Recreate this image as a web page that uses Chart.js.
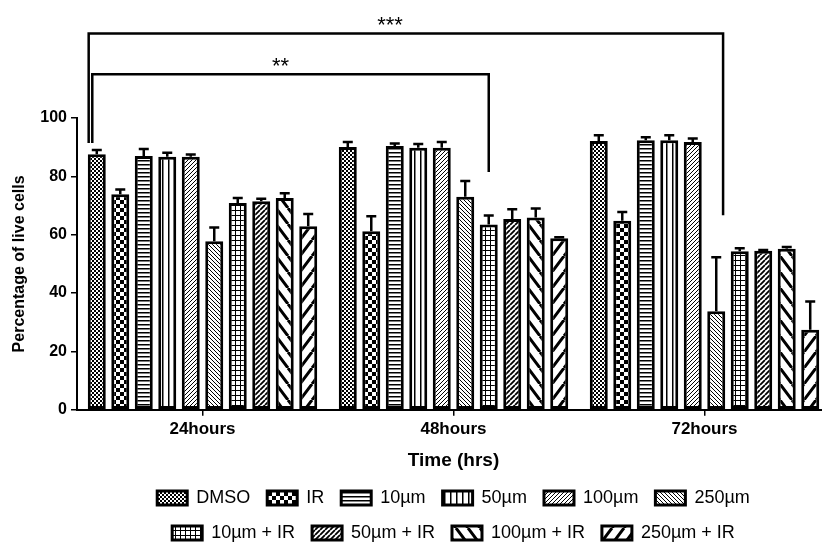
<!DOCTYPE html>
<html>
<head>
<meta charset="utf-8">
<title>Percentage of live cells</title>
<script src="https://cdn.jsdelivr.net/npm/chart.js"></script>
<style>
  html, body { margin: 0; padding: 0; background: #fff; overflow: hidden; }
  #wrap { width: 840px; height: 545px; }
</style>
</head>
<body>
<div id="wrap"><canvas id="live-cells" width="840" height="545"></canvas></div>
<script>
// time points on the x axis
const categories = ["24hours", "48hours", "72hours"];

// treatment groups (legend order)
const seriesNames = ["DMSO", "IR", "10µm", "50µm", "100µm", "250µm",
                     "10µm + IR", "50µm + IR", "100µm + IR", "250µm + IR"];

// mean % of live cells at 24h / 48h / 72h
const dmso      = [87.6, 90.1, 92.1];
const ir        = [73.9, 61.2, 64.8];
const um10      = [87.0, 90.4, 92.4];
const um50      = [86.7, 89.8, 92.4];
const um100     = [86.7, 89.8, 91.8];
const um250     = [57.8, 73.0, 33.8];
const um10ir    = [70.9, 63.5, 54.3];
const um50ir    = [71.5, 65.4, 54.5];
const um100ir   = [72.6, 65.9, 55.2];
const um250ir   = [62.9, 58.8, 27.4];

// upper error (SEM)
const dmsoErr    = [1.4, 1.7, 2.0];
const irErr      = [1.6, 5.1, 3.0];
const um10Err    = [2.4, 0.9, 1.0];
const um50Err    = [1.4, 1.3, 1.7];
const um100Err   = [0.8, 2.0, 1.2];
const um250Err   = [4.7, 5.4, 18.5];
const um10irErr  = [1.7, 3.1, 1.1];
const um50irErr  = [0.8, 3.3, 0.3];
const um100irErr = [1.6, 3.1, 0.6];
const um250irErr = [4.2, 0.3, 9.7];

const means  = [dmso, ir, um10, um50, um100, um250, um10ir, um50ir, um100ir, um250ir];
const errors = [dmsoErr, irErr, um10Err, um50Err, um100Err, um250Err,
                um10irErr, um50irErr, um100irErr, um250irErr];

// y axis ticks
const yTicks = [0, 20, 40, 60, 80, 100];

// significance brackets: [series, category] of both ends
const sigLabels = ["***", "**"];
const sigStart  = [[0, 0], [0, 0]];
const sigEnd    = [[5, 2], [6, 1]];
const sigLevel  = [129, 115];               // height of the bracket (%)
const sigLegs   = [[91.4, 66.7], [91.4, 81.5]]; // where the legs stop (%)

// fill patterns, black on white like the original print
function makePattern(kind) {
    const sizes = {
        fineCheck: [4, 4], check: [8, 8], hlines: [4, 4], vlines: [6, 6],
        diagR: [4, 4], diagL: [4, 4], grid: [5, 5], diagBold: [5, 5],
        wideL: [12, 16], wideR: [12, 16]
    };
    const [w, h] = sizes[kind];
    const c = document.createElement("canvas");
    c.width = w; c.height = h;
    const g = c.getContext("2d");
    g.fillStyle = "#fff";
    g.fillRect(0, 0, w, h);
    g.fillStyle = "#000";
    g.strokeStyle = "#000";

    const slash = (lw, back) => {
        g.lineWidth = lw;
        g.beginPath();
        for (const dx of [-w, 0, w]) {
            if (back) { g.moveTo(dx, 0); g.lineTo(dx + w, h); }
            else      { g.moveTo(dx, h); g.lineTo(dx + w, 0); }
        }
        g.stroke();
    };

    switch (kind) {
        case "fineCheck": g.fillRect(0, 0, 2, 2); g.fillRect(2, 2, 2, 2); break;
        case "check":     g.fillRect(0, 0, 4, 4); g.fillRect(4, 4, 4, 4); break;
        case "hlines":    g.fillRect(0, 0, w, 1.5); break;
        case "vlines":    g.fillRect(0, 0, 1.5, h); break;
        case "diagR":     slash(1, false); break;
        case "diagL":     slash(1, true); break;
        case "grid":      g.fillRect(0, 0, w, 1); g.fillRect(0, 0, 1, h); break;
        case "diagBold":  slash(1.8, false); break;
        case "wideL":     slash(3, true); break;
        case "wideR":     slash(3, false); break;
    }
    return g.createPattern(c, "repeat");
}

const patternKinds = ["fineCheck", "check", "hlines", "vlines", "diagR", "diagL",
                      "grid", "diagBold", "wideL", "wideR"];

// upward error bars with a cap
const errorBars = {
    id: "errorBars",
    afterDatasetsDraw(chart) {
        const ctx = chart.ctx;
        const y = chart.scales.y;
        ctx.save();
        ctx.strokeStyle = "#000";
        ctx.lineWidth = 2.5;
        chart.data.datasets.forEach((ds, i) => {
            chart.getDatasetMeta(i).data.forEach((bar, j) => {
                const top = y.getPixelForValue(ds.data[j] + ds.errors[j]);
                ctx.beginPath();
                ctx.moveTo(bar.x, bar.y);
                ctx.lineTo(bar.x, top);
                ctx.moveTo(bar.x - 5, top);
                ctx.lineTo(bar.x + 5, top);
                ctx.stroke();
            });
        });
        ctx.restore();
    }
};

// significance brackets above the bars
const brackets = {
    id: "brackets",
    afterDraw(chart) {
        const ctx = chart.ctx;
        const y = chart.scales.y;
        const legShift = [[-0.45, 0.38], [-0.25, 0]];
        ctx.save();
        ctx.strokeStyle = "#000";
        ctx.fillStyle = "#000";
        ctx.lineWidth = 2.5;
        sigLabels.forEach((label, k) => {
            const a = chart.getDatasetMeta(sigStart[k][0]).data[sigStart[k][1]];
            const b = chart.getDatasetMeta(sigEnd[k][0]).data[sigEnd[k][1]];
            const x1 = a.x + a.width * legShift[k][0];
            const x2 = b.x + b.width * legShift[k][1];
            const top = y.getPixelForValue(sigLevel[k]);
            ctx.beginPath();
            ctx.moveTo(x1, y.getPixelForValue(sigLegs[k][0]));
            ctx.lineTo(x1, top);
            ctx.lineTo(x2, top);
            ctx.lineTo(x2, y.getPixelForValue(sigLegs[k][1]));
            ctx.stroke();
            ctx.font = "22px 'Liberation Sans', Arial";
            ctx.textAlign = "center";
            ctx.textBaseline = "alphabetic";
            ctx.fillText(label, x1 + (x2 - x1) * 0.475, top - 1);
        });
        ctx.restore();
    }
};

Chart.defaults.font.family = "'Liberation Sans', Arial, sans-serif";
Chart.defaults.color = "#000";

new Chart(document.getElementById("live-cells"), {
    type: "bar",
    data: {
        labels: categories,
        datasets: seriesNames.map((name, i) => ({
            label: name,
            data: means[i],
            errors: errors[i],
            backgroundColor: makePattern(patternKinds[i]),
            borderColor: "#000",
            borderWidth: 3,
            borderSkipped: false,
            categoryPercentage: 0.936,
            barPercentage: 0.766
        }))
    },
    options: {
        responsive: false,
        animation: false,
        layout: { padding: { top: 118, right: 10, left: 0, bottom: 0 } },
        plugins: {
            tooltip: { enabled: false },
            legend: {
                position: "bottom",
                fullSize: false,
                maxHeight: 73,
                labels: {
                    boxWidth: 30,
                    boxHeight: 14,
                    padding: 17,
                    font: { size: 18 }
                }
            }
        },
        scales: {
            x: {
                grid: { display: true, offset: false, drawOnChartArea: false, tickLength: 6, color: "#000", lineWidth: 1.5 },
                border: { color: "#000", width: 2 },
                ticks: { padding: 3, font: { size: 17, weight: "bold" } },
                title: { display: true, text: "Time (hrs)", font: { size: 19, weight: "bold" }, padding: { top: 7, bottom: 0 } }
            },
            y: {
                min: 0,
                max: 100,
                afterBuildTicks: s => { s.ticks = yTicks.map(v => ({ value: v })); },
                afterFit: s => { s.width = 77; },
                grid: { drawOnChartArea: false, tickLength: 6, color: "#000", lineWidth: 1.5 },
                border: { color: "#000", width: 2 },
                ticks: { padding: 4, font: { size: 16, weight: "bold" } },
                title: { display: true, text: "Percentage of live cells", font: { size: 16, weight: "bold" }, padding: { top: 10, bottom: 0 } }
            }
        }
    },
    plugins: [errorBars, brackets]
});
</script>
</body>
</html>
